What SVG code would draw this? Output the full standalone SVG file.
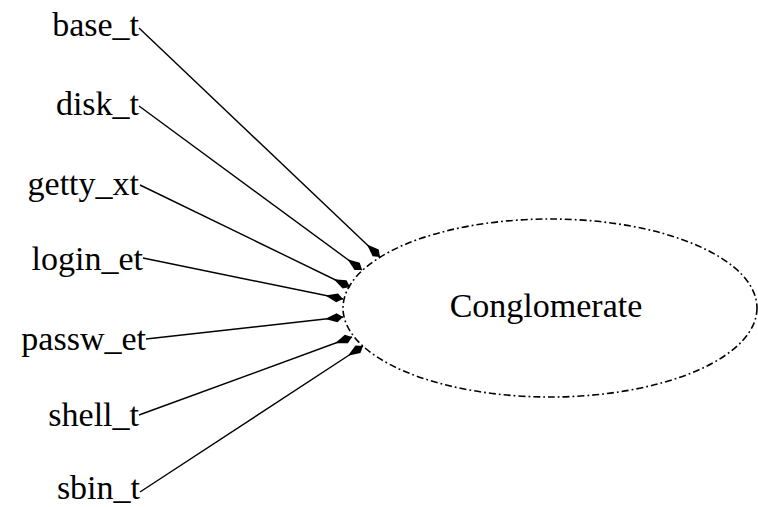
<svg xmlns="http://www.w3.org/2000/svg" width="758" height="507" viewBox="0 0 758 507">
  <style>
    .lbl { font-family: "Liberation Serif", "Times New Roman", serif; font-size: 34px; fill: #000; }
    .edge { stroke: #000; stroke-width: 1.4; fill: none; marker-end: url(#kite); }
    .cluster { fill: none; stroke: #000; stroke-width: 1.6; stroke-dasharray: 7 3 1.8 3; }
  </style>
  <defs>
    <!-- kite-shaped arrowhead, tip at the origin -->
    <marker id="kite" refX="0" refY="0" markerUnits="userSpaceOnUse" markerWidth="1" markerHeight="1" orient="auto" overflow="visible">
      <path d="M0,0 L-6,-4.5 L-18,0 L-6,4.5 Z" fill="#000"/>
    </marker>
  </defs>

  <g id="conglomerate">
    <ellipse class="cluster" cx="550" cy="308" rx="207" ry="89"/>
    <text class="lbl" x="546" y="317" text-anchor="middle">Conglomerate</text>
  </g>

  <g id="base_t"><text class="lbl" x="139" y="36" text-anchor="end">base_t</text></g>
  <g id="disk_t"><text class="lbl" x="139" y="115" text-anchor="end">disk_t</text></g>
  <g id="getty_xt"><text class="lbl" x="139" y="195" text-anchor="end">getty_xt</text></g>
  <g id="login_et"><text class="lbl" x="143" y="270" text-anchor="end">login_et</text></g>
  <g id="passw_et"><text class="lbl" x="146" y="350" text-anchor="end">passw_et</text></g>
  <g id="shell_t"><text class="lbl" x="139" y="426" text-anchor="end">shell_t</text></g>
  <g id="sbin_t"><text class="lbl" x="140" y="499" text-anchor="end">sbin_t</text></g>

  <g id="connectors">
    <line class="edge" x1="139" y1="28" x2="380" y2="257"/>
    <line class="edge" x1="139" y1="106" x2="362" y2="270"/>
    <line class="edge" x1="140" y1="185" x2="350" y2="287"/>
    <line class="edge" x1="143" y1="258" x2="343" y2="299"/>
    <line class="edge" x1="146" y1="339" x2="343" y2="317"/>
    <line class="edge" x1="139" y1="415" x2="352" y2="337"/>
    <line class="edge" x1="140" y1="492" x2="363" y2="346"/>
  </g>
</svg>
